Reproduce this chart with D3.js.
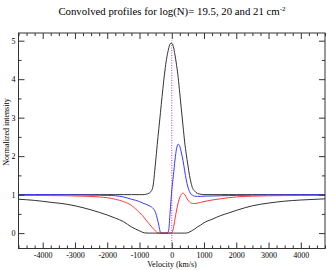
<!DOCTYPE html>
<html>
<head>
<meta charset="utf-8">
<script src="https://cdn.jsdelivr.net/npm/d3@7"></script>
<style>
  body { margin: 0; background: #fff; }
  svg text { font-family: "Liberation Serif", "DejaVu Serif", serif; fill: #000; }
</style>
</head>
<body>
<svg id="chart" width="327" height="270"></svg>
<script>
// velocity grid (km/s) shared by all curves
const velocity = [-4750,-4250,-3750,-3250,-2750,-2250,-2000,-1750,-1500,-1250,
  -1000,-900,-800,-700,-600,-500,-450,-400,-350,-300,
  -250,-200,-150,-100,-50,0,50,100,150,200,
  250,300,350,400,450,500,550,600,650,700,
  800,900,1000,1250,1500,1750,2000,2500,3000,3500,
  4000,4750];

// intrinsic emission profile (black, peak ~5)
const emission = [1,1,1,1,1,1,1,1,1,1,
  1,1,1.01,1.04,1.15,1.85,2.3,2.72,3.13,3.55,
  3.95,4.3,4.58,4.78,4.92,4.93,4.85,4.63,4.36,4.04,
  3.62,3.2,2.78,2.37,2.05,1.77,1.5,1.3,1.16,1.1,
  1.03,1.01,1,1,1,1,1,1,1,1,
  1,1];

// log(N) = 19.5 (blue)
const blueN195 = [1,1,0.998,0.995,0.99,0.985,0.98,0.97,0.94,0.88,
  0.82,0.78,0.75,0.71,0.66,0.53,0.38,0.2,0.02,0,
  0,0,0,0.05,0.55,1.1,1.5,1.9,2.2,2.31,
  2.25,2.08,1.88,1.62,1.38,1.2,1.08,1.01,0.98,0.96,
  0.955,0.955,0.96,0.965,0.97,0.975,0.98,0.985,0.99,0.995,
  0.997,1];

// log(N) = 20 (red)
const redN20 = [0.98,0.978,0.975,0.97,0.96,0.94,0.92,0.88,0.82,0.72,
  0.53,0.45,0.34,0.24,0.14,0.05,0.015,0,0,0,
  0,0,0,0,0,0.01,0.12,0.37,0.6,0.79,
  0.93,1.01,1.04,1,0.93,0.86,0.81,0.78,0.77,0.77,
  0.78,0.8,0.82,0.86,0.89,0.92,0.94,0.96,0.97,0.975,
  0.978,0.98];

// log(N) = 21 (black, damped absorption)
const blackN21 = [0.88,0.85,0.8,0.75,0.66,0.54,0.47,0.39,0.3,0.16,
  0.06,0.02,0.003,0,0,0,0,0,0,0,
  0,0,0,0,0,0,0,0,0,0,
  0,0,0,0,0.003,0.01,0.03,0.05,0.075,0.1,
  0.16,0.21,0.27,0.36,0.45,0.52,0.59,0.71,0.78,0.83,
  0.86,0.89];

const xMajor = [-4000,-3000,-2000,-1000,0,1000,2000,3000,4000];
const yMajor = [0,1,2,3,4,5];

const series = [
  { name: "emission", values: emission, color: "#333" },
  { name: "19.5", values: blueN195, color: "#3838ff" },
  { name: "20", values: redN20, color: "#ff3838" },
  { name: "21", values: blackN21, color: "#333" }
];

const svg = d3.select("#chart");
const plotLeft = 18.5, plotRight = 325, plotTop = 33, plotBottom = 248.5;

const x = d3.scaleLinear().domain([-4750, 4750]).range([plotLeft, plotRight]);
const y = d3.scaleLinear().domain([-0.4, 5.2]).range([plotBottom, plotTop]);

// minor ticks every 250 km/s and 0.5 intensity
const xMinor = d3.range(-4750, 4751, 250).filter(v => v % 1000 !== 0);
const yMinor = d3.range(0.5, 5.1, 1);

// title with superscript
const title = svg.append("text")
  .attr("x", 172).attr("y", 15)
  .attr("text-anchor", "middle")
  .attr("font-size", "10.8px")
  .text("Convolved profiles for log(N)= 19.5, 20 and 21 cm");
title.append("tspan")
  .attr("font-size", "7px")
  .attr("dy", "-4")
  .text("-2");

// curves
const line = d3.line()
  .x((d, i) => x(velocity[i]))
  .y(d => y(d))
  .curve(d3.curveMonotoneX);

const g = svg.append("g");
g.append("clipPath").attr("id", "clip")
  .append("rect").attr("x", plotLeft).attr("y", plotTop)
  .attr("width", plotRight - plotLeft).attr("height", plotBottom - plotTop);

// zero-velocity marker
g.append("line")
  .attr("x1", x(0)).attr("x2", x(0))
  .attr("y1", y(-0.4)).attr("y2", y(5))
  .attr("stroke", "#b02ab0")
  .attr("stroke-width", 0.9)
  .attr("stroke-dasharray", "1,1.5");

series.forEach(s => {
  g.append("path")
    .attr("clip-path", "url(#clip)")
    .attr("d", line(s.values))
    .attr("fill", "none")
    .attr("stroke", s.color)
    .attr("stroke-width", 1);
});

// axes: ticks point inward on all four sides
function addAxis(axis, tx, ty) {
  const a = svg.append("g").attr("transform", `translate(${tx},${ty})`).call(axis);
  a.select(".domain").remove();
  a.selectAll("line").attr("stroke", "#333");
  return a;
}

const fmt = d => String(d);

addAxis(d3.axisBottom(x).tickValues(xMajor).tickSize(-6).tickPadding(3.5).tickFormat(fmt), 0, plotBottom)
  .selectAll("text").attr("font-size", "8px").attr("font-family", "Liberation Serif");
addAxis(d3.axisBottom(x).tickValues(xMinor).tickSize(-3).tickFormat(""), 0, plotBottom);
addAxis(d3.axisTop(x).tickValues(xMajor).tickSize(-6).tickFormat(""), 0, plotTop);
addAxis(d3.axisTop(x).tickValues(xMinor).tickSize(-3).tickFormat(""), 0, plotTop);

addAxis(d3.axisLeft(y).tickValues(yMajor).tickSize(-6).tickPadding(3).tickFormat(fmt), plotLeft, 0)
  .selectAll("text").attr("font-size", "8px").attr("font-family", "Liberation Serif");
addAxis(d3.axisLeft(y).tickValues(yMinor).tickSize(-3).tickFormat(""), plotLeft, 0);
addAxis(d3.axisRight(y).tickValues(yMajor).tickSize(-6).tickFormat(""), plotRight, 0);
addAxis(d3.axisRight(y).tickValues(yMinor).tickSize(-3).tickFormat(""), plotRight, 0);

// frame
svg.append("rect")
  .attr("x", plotLeft).attr("y", plotTop)
  .attr("width", plotRight - plotLeft).attr("height", plotBottom - plotTop)
  .attr("fill", "none").attr("stroke", "#333").attr("stroke-width", 1);

// axis labels
svg.append("text")
  .attr("x", 172).attr("y", 267)
  .attr("text-anchor", "middle")
  .attr("font-size", "8px")
  .text("Velocity (km/s)");

svg.append("text")
  .attr("transform", "translate(8.5,132) rotate(-90)")
  .attr("text-anchor", "middle")
  .attr("font-size", "8px")
  .text("Normalized intensity");
</script>
</body>
</html>
